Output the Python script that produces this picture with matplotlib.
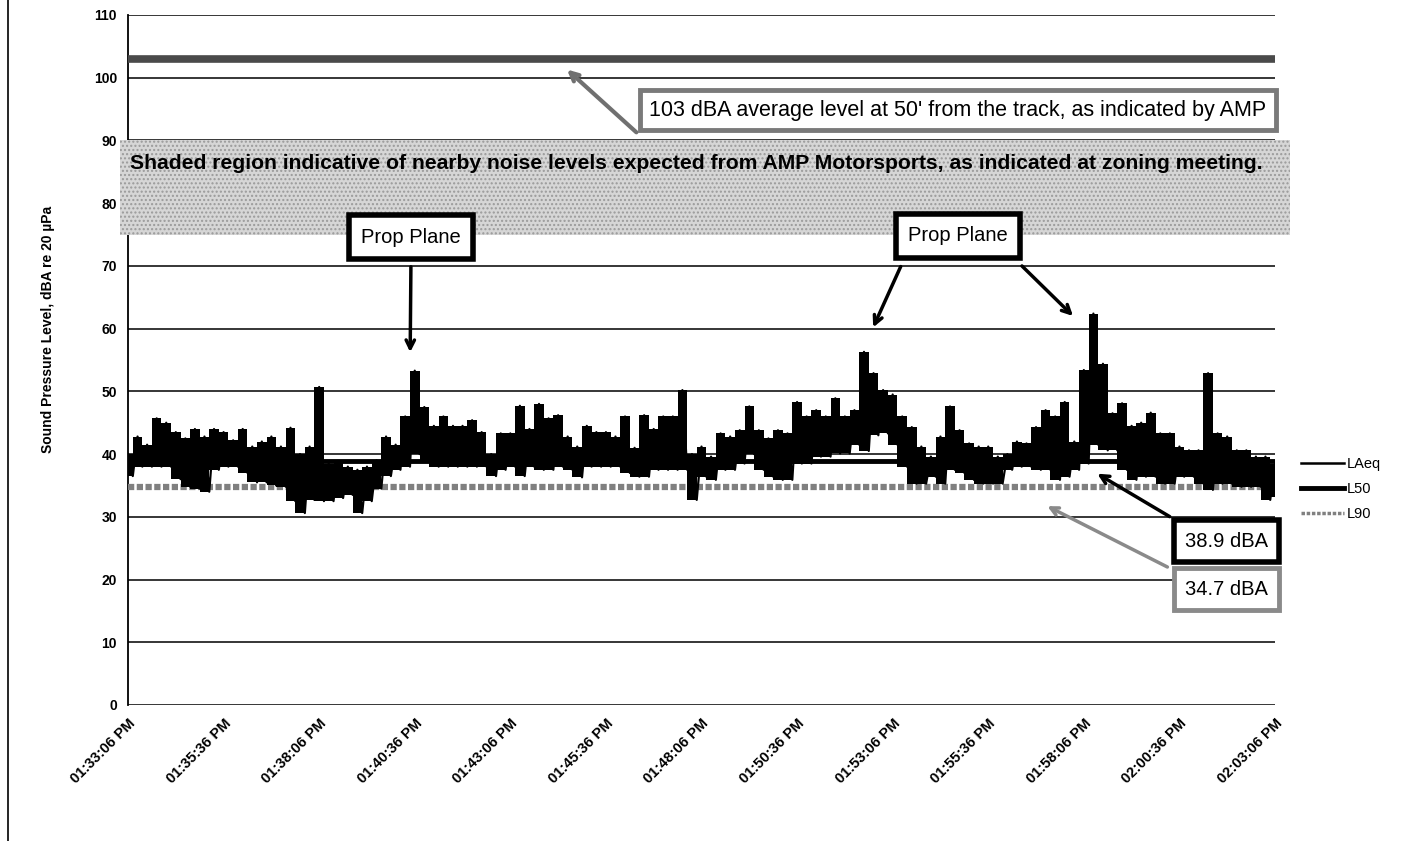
import numpy as np
import matplotlib
matplotlib.use("Agg")
import matplotlib.pyplot as plt
from matplotlib.lines import Line2D

plt.rcParams['font.family'] = ['Liberation Sans', 'DejaVu Sans']

# LAeq trace, every 15 s: local max (hi) and local min (lo), dBA
hi = [40.0, 42.8, 41.5, 45.7, 45.0, 43.5, 42.5, 44.0, 42.8, 44.0,
      43.5, 42.2, 44.0, 41.2, 42.0, 42.8, 41.2, 44.2, 40.0, 41.2,
      50.7, 38.5, 38.9, 38.0, 37.5, 38.0, 39.0, 42.8, 41.5, 46.0,
      53.3, 47.5, 44.5, 46.0, 44.5, 44.5, 45.4, 43.5, 40.0, 43.3,
      43.3, 47.7, 44.0, 48.0, 45.7, 46.2, 42.8, 41.2, 44.5, 43.5,
      43.5, 42.8, 46.0, 41.0, 46.2, 44.0, 46.0, 46.0, 50.2, 40.0,
      41.2, 39.6, 43.3, 42.8, 43.8, 47.6, 43.8, 42.5, 43.8, 43.3,
      48.3, 46.0, 47.0, 46.0, 48.9, 46.0, 47.0, 56.3, 52.9, 50.2,
      49.5, 46.0, 44.3, 41.2, 39.6, 42.8, 47.6, 43.8, 41.7, 41.2,
      41.2, 39.6, 40.0, 42.0, 41.7, 44.3, 47.0, 46.0, 48.3, 42.0,
      53.4, 62.4, 54.4, 46.5, 48.1, 44.5, 45.0, 46.6, 43.3, 43.3,
      41.2, 40.6, 40.6, 52.9, 43.3, 42.8, 40.6, 40.6, 39.6, 39.6, 38.5]
lo = [36.5, 38.0, 38.0, 38.0, 38.0, 36.0, 34.8, 34.5, 34.0, 37.5,
      38.0, 38.0, 37.0, 35.5, 35.5, 35.0, 34.8, 32.5, 30.6, 32.7,
      32.5, 32.5, 33.0, 33.5, 30.6, 32.5, 34.5, 36.5, 37.5, 38.0,
      40.0, 39.0, 38.0, 38.0, 38.0, 38.0, 38.0, 38.0, 36.5, 37.5,
      38.0, 36.5, 38.0, 37.5, 37.5, 38.0, 37.5, 36.3, 38.0, 38.0,
      38.0, 38.0, 37.0, 36.4, 36.4, 37.5, 37.5, 37.5, 37.5, 32.7,
      36.4, 35.9, 37.5, 37.5, 38.5, 40.0, 37.5, 36.4, 35.9, 35.9,
      38.5, 38.5, 39.6, 39.6, 40.1, 40.1, 41.5, 40.5, 43.0, 43.3,
      41.5, 38.0, 35.3, 35.3, 36.4, 35.3, 37.5, 37.0, 35.9, 35.3,
      35.3, 35.3, 37.5, 38.0, 38.0, 37.5, 37.5, 35.9, 36.4, 37.5,
      38.5, 41.5, 40.6, 40.6, 37.5, 35.9, 36.4, 36.4, 35.3, 35.3,
      36.4, 36.4, 35.3, 34.3, 35.3, 35.3, 34.8, 34.8, 34.8, 32.7, 33.2]

L50 = 38.9
L90 = 34.7
AMP_LEVEL = 103
shade_lo, shade_hi = 75, 90

tick_labels = ['01:33:06 PM', '01:35:36 PM', '01:38:06 PM', '01:40:36 PM',
               '01:43:06 PM', '01:45:36 PM', '01:48:06 PM', '01:50:36 PM',
               '01:53:06 PM', '01:55:36 PM', '01:58:06 PM', '02:00:36 PM',
               '02:03:06 PM']

# minutes from start, one reading every 15 s
tk = np.arange(len(hi)) * 0.25
# interleave the max/min readings into one jagged trace
laeq = np.empty(2 * len(hi))
laeq[0::2] = hi
laeq[1::2] = lo
t = np.arange(len(laeq)) * 0.125

fig = plt.figure(figsize=(14.25, 8.41), dpi=100)
ax = fig.add_axes([128 / 1425, 136 / 841, 1147 / 1425, 690 / 841])
ax.set_xlim(0, 30)
ax.set_ylim(0, 110)

ax.set_yticks(range(0, 111, 10))
ax.set_xticks(np.arange(len(tick_labels)) * 2.5)
ax.set_xticklabels(tick_labels, rotation=45, ha='right', rotation_mode='anchor',
                   fontsize=10.5, fontweight='bold')
for lab in ax.get_yticklabels():
    lab.set_fontweight('bold')
    lab.set_fontsize(10)
ax.tick_params(length=0, pad=8)
ax.yaxis.grid(True, color='black', lw=1.1)
ax.set_axisbelow(True)
for s in ['top', 'right', 'bottom']:
    ax.spines[s].set_visible(False)
ax.spines['left'].set_linewidth(1.3)

ax.set_ylabel('Sound Pressure Level, dBA re 20 µPa', fontsize=10, fontweight='bold')
ax.yaxis.set_label_coords(-0.064, 0.545)

# shaded AMP region and 103 dBA line
ax.axhspan(shade_lo, shade_hi, xmin=-0.007, xmax=1.013, facecolor='#d6d6d6',
           edgecolor='#9a9a9a', hatch='....', lw=0, zorder=3, clip_on=False)
ax.axhline(AMP_LEVEL, color='#4a4a4a', lw=5.5, zorder=3)

ax.axhline(L90, color='#808080', lw=4.5, ls=(0, (1.0, 0.4)), zorder=3)
ax.axhline(L50, color='black', lw=3.5, zorder=4)
ax.fill_between(tk, lo, hi, step='mid', color='black', lw=0, zorder=5)
ax.plot(t, laeq, color='black', lw=1.6, zorder=5)

handles = [Line2D([], [], color='black', lw=1.8),
           Line2D([], [], color='black', lw=3.5),
           Line2D([], [], color='#808080', lw=2.5, ls=(0, (1, 0.5)))]
ax.legend(handles, ['LAeq', 'L50', 'L90'], loc='center left',
          bbox_to_anchor=(1.023, 0.313), frameon=False, fontsize=10.5,
          handlelength=2.9, handletextpad=0.2, labelspacing=0.75,
          borderpad=0, borderaxespad=0)

# annotations
ax.text(0.05, 86.4, 'Shaded region indicative of nearby noise levels expected from AMP Motorsports, '
        'as indicated at zoning meeting.', fontsize=15.2, fontweight='bold', va='center',
        ha='left', zorder=6)

ax.text(21.71, 94.85, "103 dBA average level at 50' from the track, as indicated by AMP",
        fontsize=15.5, ha='center', va='center', zorder=7,
        bbox=dict(boxstyle='square,pad=0.45', fc='white', ec='#7a7a7a', lw=3.5))
ax.annotate('', xy=(11.43, 101.6), xytext=(13.35, 91.0), zorder=7,
            arrowprops=dict(arrowstyle='->', color='#707070', lw=3, mutation_scale=15))

box_black = dict(boxstyle='square,pad=0.6', fc='white', ec='black', lw=4)
ax.text(7.40, 74.6, 'Prop Plane', fontsize=14.5, ha='center', va='center', zorder=7,
        bbox=box_black)
ax.text(21.71, 74.77, 'Prop Plane', fontsize=14.5, ha='center', va='center', zorder=7,
        bbox=box_black)
arrow_black = dict(arrowstyle='->', color='black', lw=2.5, mutation_scale=15)
ax.annotate('', xy=(7.38, 55.8), xytext=(7.40, 70.3), arrowprops=arrow_black, zorder=7)
ax.annotate('', xy=(19.46, 59.8), xytext=(20.24, 70.3), arrowprops=arrow_black, zorder=7)
ax.annotate('', xy=(24.77, 61.7), xytext=(23.33, 70.3), arrowprops=arrow_black, zorder=7)

ax.text(28.74, 26.14, '38.9 dBA', fontsize=14.5, ha='center', va='center', zorder=7,
        bbox=dict(boxstyle='square,pad=0.55', fc='white', ec='black', lw=4))
ax.annotate('', xy=(25.29, 37.1), xytext=(27.31, 29.8), arrowprops=arrow_black, zorder=7)

ax.text(28.74, 18.49, '34.7 dBA', fontsize=14.5, ha='center', va='center', zorder=6,
        bbox=dict(boxstyle='square,pad=0.55', fc='white', ec='#8a8a8a', lw=3.5))
ax.annotate('', xy=(23.98, 31.9), xytext=(27.25, 21.8), zorder=6,
            arrowprops=dict(arrowstyle='->', color='#8a8a8a', lw=2.5, mutation_scale=14))

# page border on the left
fig.add_artist(Line2D([8 / 1425, 8 / 1425], [0, 1], color='black', lw=1.2))

fig.savefig('out.png', dpi=100)
